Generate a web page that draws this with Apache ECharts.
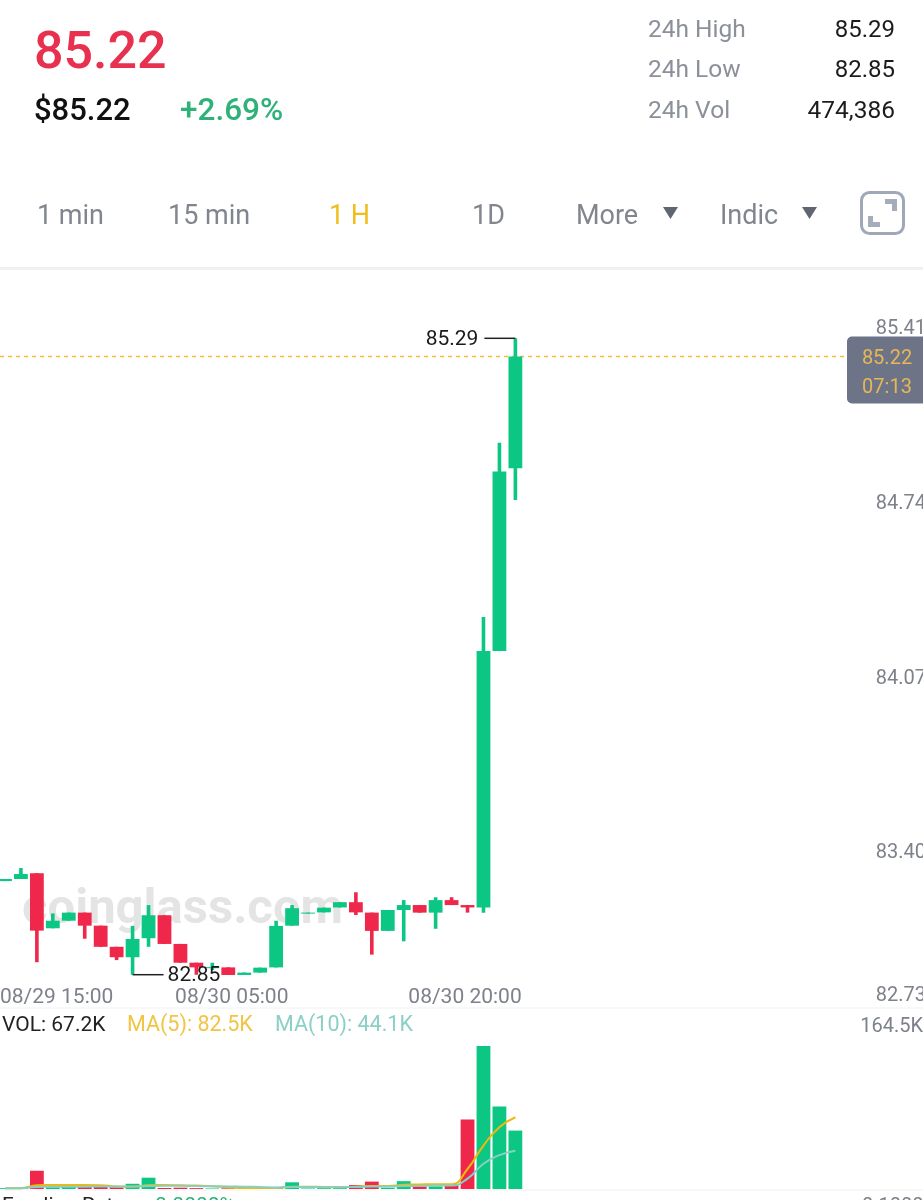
<!DOCTYPE html>
<html>
<head>
<meta charset="utf-8">
<style>html,body{margin:0;padding:0;background:#fff;overflow:hidden}#c{width:923px;height:1200px}</style>
<script src="https://cdn.jsdelivr.net/npm/echarts@6/dist/echarts.min.js"></script>
</head>
<body>
<div id="c"></div>
<script>
var times = ['08/29 15:00','08/29 16:00','08/29 17:00','08/29 18:00','08/29 19:00','08/29 20:00','08/29 21:00','08/29 22:00','08/29 23:00','08/30 00:00','08/30 01:00','08/30 02:00','08/30 03:00','08/30 04:00','08/30 05:00','08/30 06:00','08/30 07:00','08/30 08:00','08/30 09:00','08/30 10:00','08/30 11:00','08/30 12:00','08/30 13:00','08/30 14:00','08/30 15:00','08/30 16:00','08/30 17:00','08/30 18:00','08/30 19:00','08/30 20:00','08/30 21:00','08/30 22:00','08/30 23:00'];
var opens  = [83.209,83.217,83.239,83.028,83.057,83.088,83.038,82.957,82.917,82.990,83.078,82.968,82.896,82.875,82.878,82.849,82.858,82.878,83.038,83.085,83.089,83.108,83.128,83.088,83.018,83.098,83.117,83.088,83.136,83.117,83.108,84.091,84.792];
var closes = [83.217,83.236,83.019,83.057,83.088,83.038,82.957,82.917,82.987,83.078,82.968,82.896,82.878,82.879,82.849,82.858,82.877,83.037,83.105,83.088,83.107,83.128,83.089,83.018,83.098,83.117,83.088,83.136,83.117,83.108,84.091,84.779,85.220];
var lows   = [83.209,83.217,82.898,83.028,83.057,82.988,82.957,82.906,82.850,82.957,82.968,82.896,82.850,82.868,82.849,82.849,82.858,82.878,83.038,83.085,83.089,83.108,83.079,82.927,83.018,82.978,83.088,83.026,83.117,83.088,83.088,84.091,84.670];
var highs  = [83.217,83.259,83.239,83.085,83.088,83.088,83.038,82.957,83.037,83.117,83.078,82.968,82.896,82.896,82.878,82.858,82.877,83.057,83.117,83.088,83.107,83.128,83.166,83.088,83.098,83.136,83.117,83.147,83.147,83.117,84.221,84.890,85.290];
var volumes = [1.0,1.5,21,2.0,2.5,2.5,2.5,2.0,6.0,13,1.2,1.5,1.0,0.6,0.8,0.8,1.0,1.2,7.7,0.6,1.0,1.0,4.5,8.5,1.5,9.0,3.0,3.0,5.8,80,164.5,95,67.2];
var ma5  = [0.8,1.0,4.3,4.5,4.6,4.6,4.4,3.0,2.6,4.4,4.5,4.2,3.9,3.3,1.6,1.2,1.2,1.2,2.6,2.6,2.4,2.2,2.7,3.4,3.5,4.8,5.3,5.6,5.6,23,50,71,82.5];
var ma10 = [0.8,1.0,2.4,2.5,2.6,2.7,2.9,3.0,3.0,3.4,3.6,3.6,3.4,3.2,3.0,2.6,2.4,1.6,2.2,2.2,2.1,2.0,2.4,2.9,3.0,3.4,3.6,3.9,4.0,12,29,39,44.1];
var priceTicks = [82.73,83.40,84.07,84.74,85.41];
var volTicks = [164.5];
var xLabelIndices = [0,14,29];
var lastPrice = 85.22, countdown = '07:13';
var highMark = 85.29, lowMark = 82.85, highIdx = 32, lowIdx = 8;

var GREEN='#0cc784', RED='#ee274b', FONT='Roboto, sans-serif';
var categories = times.concat(new Array(25).fill(''));
var candleRows = times.map(function(t,i){return [i,opens[i],closes[i],lows[i],highs[i]];});

function renderCandle(params, api){
  var i=api.value(0), o=api.value(1), c=api.value(2), l=api.value(3), h=api.value(4);
  var x=api.coord([i,o])[0], yo=api.coord([i,o])[1], yc=api.coord([i,c])[1], yl=api.coord([i,l])[1], yh=api.coord([i,h])[1];
  var col=c>=o?GREEN:RED, top=Math.min(yo,yc), ht=Math.max(1,Math.abs(yo-yc));
  return {type:'group',children:[
    {type:'rect',shape:{x:x-1.8,y:yh,width:3.6,height:yl-yh},style:{fill:col}},
    {type:'rect',shape:{x:x-6.9,y:top,width:13.8,height:ht},style:{fill:col}}
  ]};
}
function renderMark(params, api){
  var i=api.value(0), v=api.value(1), dir=api.value(2);
  var p=api.coord([i,v]);
  var x2=p[0]+dir*31;
  return {type:'group',children:[
    {type:'line',shape:{x1:p[0],y1:p[1],x2:x2,y2:p[1]},style:{stroke:'#222',lineWidth:1.5}},
    {type:'text',x:x2+dir*(dir<0?6:4),y:p[1]+1,style:{text:v.toFixed(2),fill:'#1b1b1b',font:'400 21px '+FONT,align:dir>0?'left':'right',verticalAlign:'middle'}}
  ]};
}
function renderLast(params, api){
  var v=api.value(1), y=api.coord([0,v])[1];
  return {type:'group',children:[
    {type:'line',shape:{x1:0,y1:y,x2:847,y2:y},style:{stroke:'#f0c040',lineWidth:1.5,lineDash:[4,4]}},
    {type:'rect',shape:{x:847,y:y-20,width:90,height:67,r:5},style:{fill:'#6e7487'}},
    {type:'text',x:887,y:y+2,style:{text:v.toFixed(2),fill:'#e6b755',font:'400 20px '+FONT,align:'center',verticalAlign:'middle'}},
    {type:'text',x:887,y:y+31,style:{text:countdown,fill:'#e6b755',font:'400 20px '+FONT,align:'center',verticalAlign:'middle'}}
  ]};
}

function txt(s,x,y,size,fill,weight,align){
  return {type:'text',x:x,y:y,silent:true,style:{text:s,fill:fill,font:(weight||400)+' '+size+'px '+FONT,align:align||'left',verticalAlign:'middle'}};
}
function tri(x1,x2,yTop,yBot,fill){
  return {type:'polygon',shape:{points:[[x1,yTop],[x2,yTop],[(x1+x2)/2,yBot]]},style:{fill:fill}};
}
var graphics = [
  txt('85.22',34,55,52,'#e8304f',500),
  txt('$85.22',34,112,31,'#111',500),
  txt('+2.69%',180,112,31.5,'#2fb27a',500),
  txt('24h High',648,31,24.5,'#8b9099'),
  txt('24h Low',648,71,24.5,'#8b9099'),
  txt('24h Vol',648,112,24.5,'#8b9099'),
  txt('85.29',895,31,24,'#1c1c1c',400,'right'),
  txt('82.85',895,71,24,'#1c1c1c',400,'right'),
  txt('474,386',895,112,24.5,'#1c1c1c',400,'right'),
  txt('1 min',37,217,27,'#80858e'),
  txt('15 min',168,217,27,'#80858e'),
  txt('1 H',329,217,27,'#f0bd1b'),
  txt('1D',472,217,27,'#80858e'),
  txt('More',576,217,27,'#80858e'),
  txt('Indic',720,217,27,'#80858e'),
  tri(663,678,207,219,'#5f6672'),
  tri(802,817,207,219,'#5f6672'),
  {type:'rect',shape:{x:861.5,y:192.5,width:42,height:41,r:8},style:{fill:'#fff',stroke:'#a0a8b8',lineWidth:3}},
  {type:'polygon',shape:{points:[[885,199],[897,199],[897,211],[892,211],[892,204],[885,204]]},style:{fill:'#a5adbd'}},
  {type:'polygon',shape:{points:[[868,216],[873,216],[873,222],[880,222],[880,227],[868,227]]},style:{fill:'#a5adbd'}},
  {type:'rect',shape:{x:0,y:267,width:923,height:3},style:{fill:'#f0f0f0'}},
  txt('coinglass.com',22,911,49,'rgba(190,190,190,0.42)',700),
  {type:'rect',shape:{x:0,y:1007.5,width:923,height:1},style:{fill:'#f1f1f1'}},
  {type:'rect',shape:{x:0,y:1189.5,width:923,height:1},style:{fill:'#f1f1f1'}},
  txt('VOL: 67.2K',2,1026,21,'#222'),
  txt('MA(5): 82.5K',127,1026,21.5,'#f2c443'),
  txt('MA(10): 44.1K',275,1026,21.5,'#8ad0c6'),
  txt('Funding Rate:',2,1207,21,'#222'),
  txt('0.0000%',155,1207,21,'#2fb27a'),
  txt('0.1000',862,1207,20,'#7d8189')
];

var xLabelRich = {color:'#7d8189',fontSize:21,fontFamily:FONT};
var chart = echarts.init(document.getElementById('c'),null,{renderer:'canvas',width:923,height:1200});
chart.setOption({
  animation:false,
  backgroundColor:'#fff',
  graphic:{elements:graphics},
  grid:[
    {left:-3,width:925.1,top:307,height:699,outerBoundsMode:'none'},
    {left:-3,width:925.1,top:1046,height:143,outerBoundsMode:'none'}
  ],
  xAxis:[
    {type:'category',gridIndex:0,data:categories,boundaryGap:true,axisLine:{show:false},axisTick:{show:false},splitLine:{show:false},
     axisLabel:{inside:true,margin:-2,color:'#7d8189',fontSize:21,fontFamily:FONT,alignMinLabel:'left',padding:[0,0,0,-5],
       rich:{mid:{color:'#7d8189',fontSize:21,fontFamily:FONT,padding:[0,0,0,12]}},
       formatter:function(v,i){return i===xLabelIndices[1]?'{mid|'+v+'}':v;},
       interval:function(i){return xLabelIndices.indexOf(i)>=0;}}},
    {type:'category',gridIndex:1,data:categories,boundaryGap:true,axisLine:{show:false},axisTick:{show:false},axisLabel:{show:false},splitLine:{show:false}}
  ],
  yAxis:[
    {type:'value',gridIndex:0,position:'right',min:82.73,max:85.41,axisLine:{show:false},axisTick:{show:false},splitLine:{show:false},
     axisLabel:{inside:true,margin:-4,color:'#7d8189',fontSize:20,fontFamily:FONT,customValues:priceTicks,verticalAlign:'top',verticalAlignMinLabel:'bottom',verticalAlignMaxLabel:'top',padding:[12,0,0,0],
       formatter:function(v){return v.toFixed(2);}}},
    {type:'value',gridIndex:1,position:'right',min:0,max:164.5,axisLine:{show:false},axisTick:{show:false},splitLine:{show:false},
     axisLabel:{inside:true,margin:-1,color:'#7d8189',fontSize:20,fontFamily:FONT,customValues:volTicks,verticalAlign:'bottom',verticalAlignMaxLabel:'bottom',padding:[0,0,9,0],
       formatter:function(v){return v.toFixed(1)+'K';}}}
  ],
  series:[
    {name:'last',type:'custom',xAxisIndex:0,yAxisIndex:0,clip:false,z:1,data:[[0,lastPrice]],renderItem:renderLast,encode:{x:0,y:1}},
    {name:'price',type:'custom',xAxisIndex:0,yAxisIndex:0,clip:false,z:2,data:candleRows,renderItem:renderCandle,encode:{x:0,y:[1,2,3,4]}},
    {name:'marks',type:'custom',xAxisIndex:0,yAxisIndex:0,clip:false,z:3,data:[[highIdx,highMark,-1],[lowIdx,lowMark,1]],renderItem:renderMark,encode:{x:0,y:1}},
    {name:'VOL',type:'bar',xAxisIndex:1,yAxisIndex:1,barWidth:13.8,z:2,
      data:volumes.map(function(v,i){return {value:v,itemStyle:{color:closes[i]>=opens[i]?GREEN:RED}};})},
    {name:'MA(5)',type:'line',xAxisIndex:1,yAxisIndex:1,data:ma5,smooth:true,showSymbol:false,z:3,lineStyle:{color:'#f0b90b',width:2}},
    {name:'MA(10)',type:'line',xAxisIndex:1,yAxisIndex:1,data:ma10,smooth:true,showSymbol:false,z:4,lineStyle:{color:'#86cfc4',width:2}}
  ]
});
</script>
</body>
</html>
